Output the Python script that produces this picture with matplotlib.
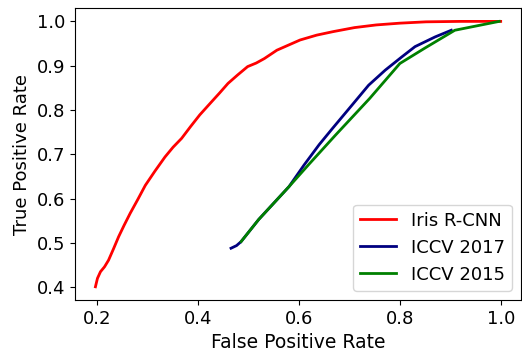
import matplotlib
matplotlib.use("Agg")
import matplotlib.pyplot as plt

iris_fpr = [0.196, 0.200, 0.206, 0.214, 0.222, 0.232, 0.242, 0.253, 0.265, 0.280, 0.295,
            0.314, 0.334, 0.350, 0.367, 0.385, 0.403, 0.426, 0.442, 0.459, 0.478, 0.498,
            0.515, 0.531, 0.556, 0.580, 0.602, 0.635, 0.668, 0.710, 0.753, 0.800, 0.852,
            0.920, 1.0]
iris_tpr = [0.401, 0.420, 0.435, 0.446, 0.461, 0.487, 0.514, 0.540, 0.567, 0.598, 0.630,
            0.662, 0.694, 0.716, 0.736, 0.763, 0.789, 0.818, 0.838, 0.860, 0.879, 0.898,
            0.906, 0.916, 0.935, 0.947, 0.958, 0.969, 0.977, 0.986, 0.992, 0.996, 0.999,
            1.0, 1.0]

iccv17_fpr = [0.465, 0.476, 0.485, 0.520, 0.550, 0.580, 0.610, 0.640, 0.666, 0.705,
              0.738, 0.771, 0.804, 0.830, 0.870, 0.902]
iccv17_tpr = [0.488, 0.494, 0.503, 0.553, 0.590, 0.627, 0.676, 0.722, 0.758, 0.811,
              0.856, 0.890, 0.920, 0.943, 0.965, 0.980]

iccv15_fpr = [0.485, 0.520, 0.550, 0.580, 0.620, 0.672, 0.740, 0.800, 0.850, 0.909, 0.997]
iccv15_tpr = [0.503, 0.553, 0.590, 0.627, 0.678, 0.743, 0.826, 0.905, 0.940, 0.980, 1.0]

fig = plt.figure(figsize=(5.22, 3.53), dpi=100)
ax = fig.add_axes([0.144, 0.150, 0.854, 0.827])
ax.plot(iris_fpr, iris_tpr, color="red", lw=2, label="Iris R-CNN")
ax.plot(iccv17_fpr, iccv17_tpr, color="navy", lw=2, label="ICCV 2017")
ax.plot(iccv15_fpr, iccv15_tpr, color="green", lw=2, label="ICCV 2015")
ax.set_xticks([0.2, 0.4, 0.6, 0.8, 1.0])
ax.set_yticks([0.4, 0.5, 0.6, 0.7, 0.8, 0.9, 1.0])
ax.tick_params(labelsize=13)
ax.set_xlabel("False Positive Rate", fontsize=13.5)
ax.set_ylabel("True Positive Rate", fontsize=13)
ax.legend(loc="lower right", fontsize=13)
fig.savefig("out.png", dpi=100)
